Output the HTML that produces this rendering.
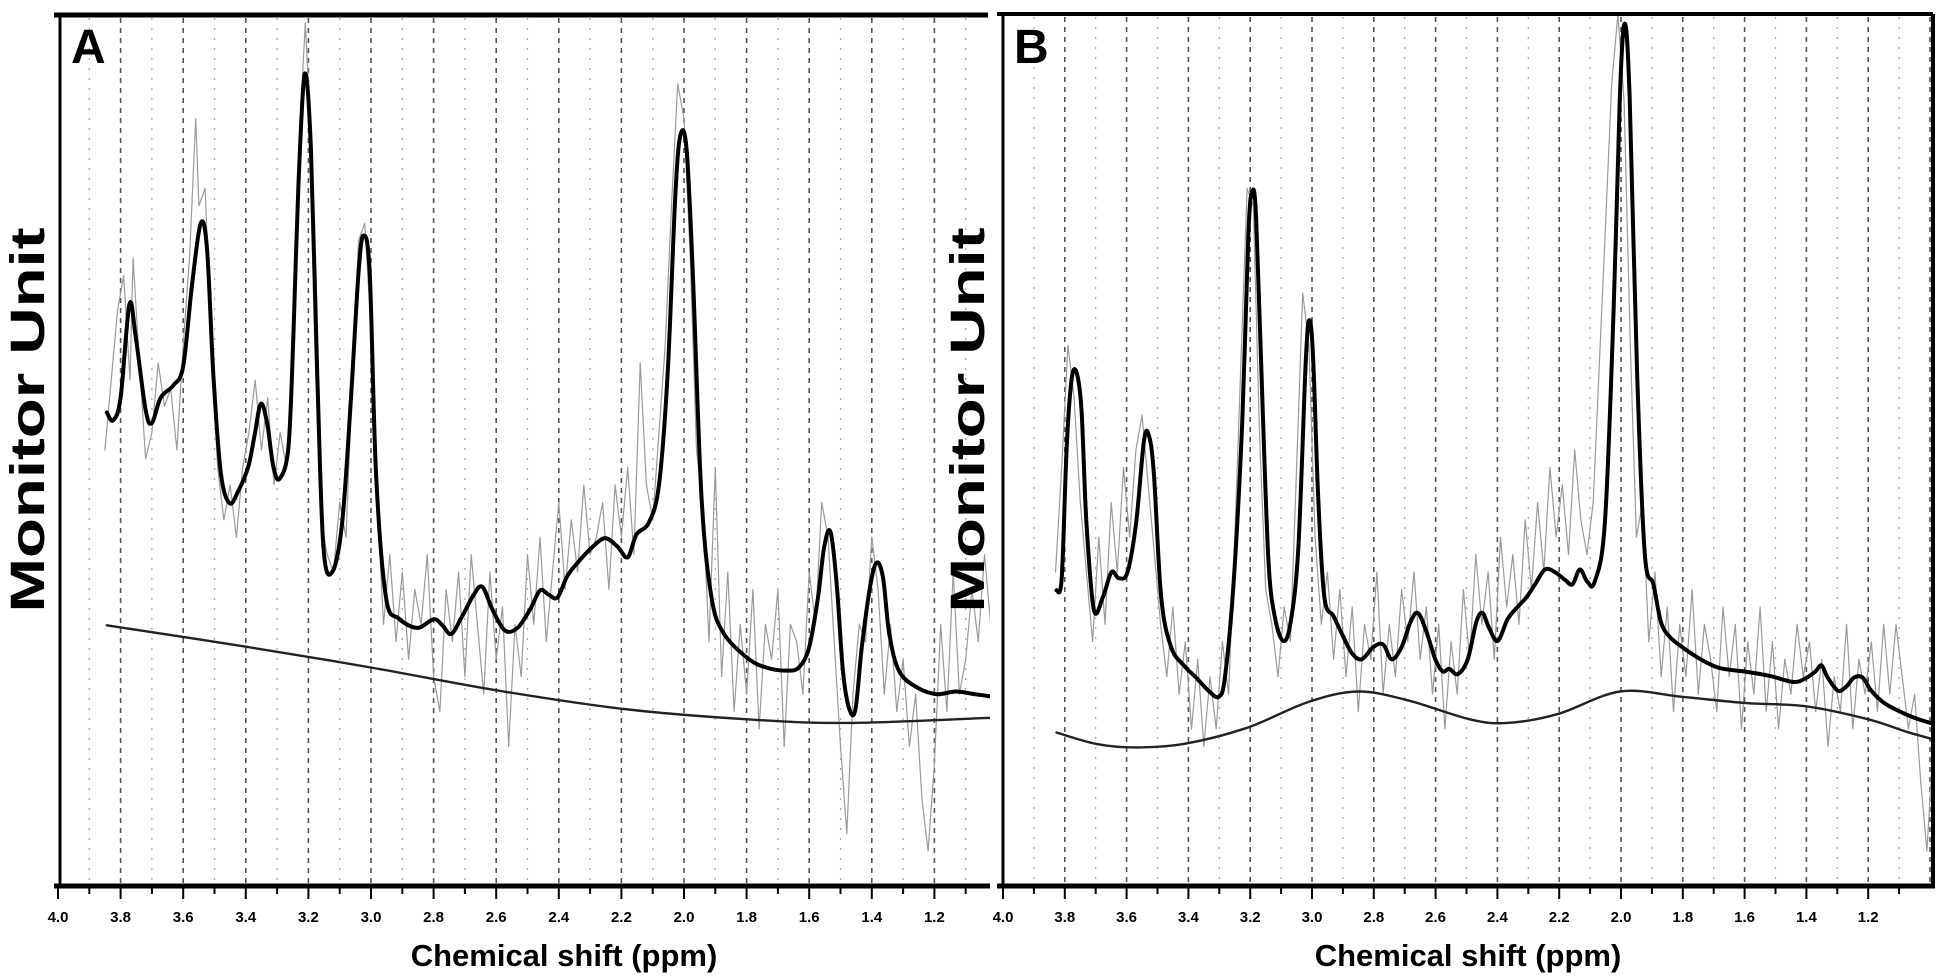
<!DOCTYPE html>
<html><head><meta charset="utf-8"><style>
html,body{margin:0;padding:0;background:#fff}
svg{display:block}
text{font-family:"Liberation Sans",Arial,sans-serif;font-weight:bold;fill:#000}
</style></head><body>
<svg id="chart" width="1944" height="978" viewBox="0 0 1944 978">
<defs>
<clipPath id="clipA"><rect x="60" y="18" width="930" height="867"/></clipPath>
<clipPath id="clipB"><rect x="1005" y="16" width="926" height="869"/></clipPath>
</defs>
<g id="gA"></g>
<g id="gB"></g>
</svg>
<script>
// ---------- Data ----------
const tickLabels = ["4.0","3.8","3.6","3.4","3.2","3.0","2.8","2.6","2.4","2.2","2.0","1.8","1.6","1.4","1.2"];
const tickPpm = [4.0,3.8,3.6,3.4,3.2,3.0,2.8,2.6,2.4,2.2,2.0,1.8,1.6,1.4,1.2];

const fitAppm = [3.844,3.824,3.80,3.772,3.752,3.72,3.70,3.672,3.632,3.60,3.572,3.544,3.524,3.504,3.48,3.452,3.424,3.392,3.372,3.352,3.332,3.312,3.292,3.264,3.248,3.232,3.212,3.192,3.172,3.152,3.124,3.092,3.064,3.04,3.024,3.004,2.984,2.952,2.912,2.852,2.80,2.772,2.744,2.712,2.672,2.644,2.612,2.572,2.532,2.492,2.46,2.432,2.404,2.372,2.332,2.292,2.252,2.212,2.18,2.152,2.112,2.08,2.052,2.028,2.012,1.992,1.972,1.944,1.912,1.872,1.792,1.732,1.672,1.632,1.60,1.572,1.552,1.532,1.512,1.492,1.472,1.452,1.432,1.404,1.384,1.364,1.344,1.312,1.252,1.192,1.132,1.072,1.012];
const fitAval = [54.3,53.4,56,66.7,63.1,54.6,53.1,56,57.4,59.6,68.9,76,73.1,58.9,47.4,43.9,45.3,48.1,51.7,55.3,53.1,48.1,46.7,50.3,63.1,80.3,93.1,84.6,58.9,38.9,36,41.7,56,70.3,74.6,70.3,47.4,33.1,30.7,29.6,30.6,29.9,28.9,30.7,33.4,34.3,31.7,29.3,29.6,31.7,33.9,33.4,33.1,35.6,37.4,38.9,39.9,38.9,37.7,40.3,41.7,46,58.9,78.9,86,84.6,70.3,44.6,33.1,28.9,26,25,24.7,25.1,27.4,33.1,38.9,40.6,34.6,24.6,20.3,20.3,27.4,34.6,37.1,35.3,28.9,24.6,22.7,22,22.3,22,21.7];
const baseAppm = [3.844,3.392,2.992,2.592,2.192,1.792,1.472,1.012];
const baseAval = [29.9,27.4,25,22.4,20.3,19.1,18.7,19.3];
const rawAppm = [3.85,3.83,3.81,3.79,3.77,3.76,3.74,3.72,3.70,3.68,3.66,3.64,3.62,3.60,3.58,3.56,3.55,3.53,3.51,3.49,3.47,3.45,3.43,3.41,3.39,3.37,3.35,3.33,3.31,3.29,3.27,3.25,3.23,3.21,3.20,3.18,3.16,3.14,3.12,3.10,3.08,3.06,3.04,3.02,3.00,2.98,2.96,2.94,2.92,2.90,2.88,2.86,2.84,2.82,2.80,2.78,2.76,2.74,2.72,2.70,2.68,2.66,2.64,2.62,2.60,2.58,2.56,2.54,2.52,2.50,2.48,2.46,2.44,2.42,2.40,2.38,2.36,2.34,2.32,2.30,2.28,2.26,2.24,2.22,2.20,2.18,2.16,2.14,2.12,2.10,2.08,2.06,2.04,2.02,2.00,1.98,1.96,1.94,1.92,1.90,1.88,1.86,1.84,1.82,1.80,1.78,1.76,1.74,1.72,1.70,1.68,1.66,1.64,1.62,1.60,1.58,1.56,1.54,1.52,1.50,1.48,1.46,1.44,1.42,1.40,1.38,1.36,1.34,1.32,1.30,1.28,1.26,1.24,1.22,1.20,1.18,1.16,1.14,1.12,1.10,1.08,1.06,1.04,1.02];
const rawAval = [50,58,66,70,58,72,60,49,52,60,55,57,50,62,72,88,78,80,62,48,42,46,40,48,52,58,50,56,46,52,48,62,85,99,92,62,42,38,36,44,40,58,74,76,64,44,30,38,28,36,26,34,30,38,24,20,34,28,36,24,38,30,22,36,26,32,16,30,24,38,30,40,28,36,44,34,42,36,46,38,40,44,34,46,40,48,38,60,46,42,52,62,78,92,88,72,50,44,28,48,24,36,20,30,22,34,18,30,26,34,16,30,28,22,36,30,44,40,28,16,6,22,30,28,40,34,22,30,20,26,16,22,10,4,14,30,20,36,22,26,34,28,38,30];

const fitBppm = [3.827,3.81,3.794,3.778,3.762,3.746,3.73,3.706,3.677,3.649,3.625,3.597,3.569,3.544,3.528,3.512,3.488,3.456,3.415,3.375,3.335,3.302,3.282,3.254,3.226,3.206,3.194,3.181,3.161,3.141,3.121,3.093,3.069,3.044,3.02,3.008,2.996,2.98,2.96,2.931,2.903,2.871,2.839,2.802,2.77,2.742,2.71,2.681,2.657,2.629,2.601,2.577,2.556,2.528,2.496,2.468,2.448,2.427,2.399,2.367,2.335,2.306,2.278,2.246,2.214,2.181,2.157,2.133,2.109,2.085,2.052,2.024,2.004,1.988,1.972,1.948,1.923,1.895,1.871,1.843,1.802,1.742,1.681,1.601,1.52,1.44,1.399,1.371,1.351,1.331,1.298,1.27,1.246,1.218,1.19,1.149,1.097,1.036,0.968];
const fitBval = [33.9,35.3,50.3,58.1,58.9,54.6,41.7,31.7,33.1,36,35.3,36,41.7,51,51.7,47.4,33.1,27.4,25.3,23.9,22.4,21.7,23.9,34.6,53.1,74.6,79.6,76.7,56,37.4,31,28.1,30.3,38.9,60.3,64.9,60.3,44.6,33.1,31,28.9,26.7,26,27.4,27.7,26,27.4,30.3,31.3,29.1,26,24.6,24.9,24.3,26,30.3,31.3,29.6,28.1,30.6,32,33.1,34.6,36.3,36,35.1,34.6,36.3,34.9,34.9,41.7,66,90.3,98.9,90.3,58.9,38.1,34.6,30.3,28.6,27.4,26,25,24.6,24.1,23.4,23.9,24.6,25.3,23.9,22.4,22.9,23.9,23.9,22.4,21,20,19.1,18.4];
const baseBppm = [3.827,3.698,3.577,3.415,3.214,3.012,2.851,2.69,2.488,2.367,2.206,2.004,1.802,1.601,1.399,1.198,1.077,0.968];
const baseBval = [17.6,16.3,15.9,16.3,18.1,21.1,22.3,21.3,19.1,18.7,19.7,22.3,21.7,21,20.6,19.1,17.7,16.6];
const rawBppm = [3.83,3.81,3.79,3.77,3.75,3.73,3.71,3.69,3.67,3.65,3.63,3.61,3.59,3.57,3.55,3.53,3.51,3.49,3.47,3.45,3.43,3.41,3.39,3.37,3.35,3.33,3.31,3.29,3.27,3.25,3.23,3.21,3.19,3.17,3.15,3.13,3.11,3.09,3.07,3.05,3.03,3.01,2.99,2.97,2.95,2.93,2.91,2.89,2.87,2.85,2.83,2.81,2.79,2.77,2.75,2.73,2.71,2.69,2.67,2.65,2.63,2.61,2.59,2.57,2.55,2.53,2.51,2.49,2.47,2.45,2.43,2.41,2.39,2.37,2.35,2.33,2.31,2.29,2.27,2.25,2.23,2.21,2.19,2.17,2.15,2.13,2.11,2.09,2.07,2.05,2.03,2.01,1.99,1.97,1.95,1.93,1.91,1.89,1.87,1.85,1.83,1.81,1.79,1.77,1.75,1.73,1.71,1.69,1.67,1.65,1.63,1.61,1.59,1.57,1.55,1.53,1.51,1.49,1.47,1.45,1.43,1.41,1.39,1.37,1.35,1.33,1.31,1.29,1.27,1.25,1.23,1.21,1.19,1.17,1.15,1.13,1.11,1.09,1.07,1.05,1.03,1.01,0.99,0.97];
const rawBval = [36,48,62,56,44,36,28,40,30,44,36,48,40,50,54,46,38,30,24,32,22,28,18,26,16,24,18,28,22,40,60,80,78,52,34,30,24,32,28,48,68,62,40,30,36,26,34,24,32,20,30,26,36,22,30,24,34,28,36,26,32,22,30,18,28,22,34,26,38,30,36,26,40,32,38,30,42,34,44,36,48,40,46,38,50,42,38,44,60,76,92,100,90,62,40,44,28,36,24,32,20,30,24,34,22,30,26,20,32,24,30,18,28,22,32,20,28,18,26,22,30,24,28,20,26,16,24,20,30,18,26,22,28,20,30,22,30,24,18,22,12,4,16,20];

// ---------- Drawing ----------
const NS = "http://www.w3.org/2000/svg";
function mk(tag, attrs, parent){
  const e = document.createElementNS(NS, tag);
  for (const k in attrs) e.setAttribute(k, attrs[k]);
  parent.appendChild(e);
  return e;
}
function yScale(v){ return 886 - v*8.72; }

function smoothD(pts){
  let d = "M" + pts[0][0].toFixed(1) + "," + pts[0][1].toFixed(1);
  for (let i = 0; i < pts.length - 1; i++){
    const p0 = pts[Math.max(0, i-1)], p1 = pts[i], p2 = pts[i+1], p3 = pts[Math.min(pts.length-1, i+2)];
    const c1x = p1[0] + (p2[0]-p0[0])/6, c1y = p1[1] + (p2[1]-p0[1])/6;
    const c2x = p2[0] - (p3[0]-p1[0])/6, c2y = p2[1] - (p3[1]-p1[1])/6;
    d += "C" + c1x.toFixed(1) + "," + c1y.toFixed(1) + " " + c2x.toFixed(1) + "," + c2y.toFixed(1) + " " + p2[0].toFixed(1) + "," + p2[1].toFixed(1);
  }
  return d;
}

function drawPanel(g, cfg){
  const xs = p => cfg.x0 + (4.0 - p) * cfg.k;
  for (let i = 1; i <= 30; i++){
    const p = 4.0 - i*0.1;
    const x = xs(p);
    if (x > cfg.right - 2) break;
    const major = i % 2 === 0;
    const ln = mk("line", {x1:x, x2:x, y1:cfg.top+3, y2:884, stroke: major ? "#555" : "#aaa", "stroke-width": major ? 1.6 : 1.3, "stroke-dasharray": major ? "5,5" : "2,8"}, g);
    
    
  }
  const plot = mk("g", {"clip-path": "url(#" + cfg.clip + ")"}, g);
  
  
  function path(px, pv, w, col, name, smooth){
    const pts = px.map((p, i) => [xs(p), yScale(pv[i])]);
    let d;
    if (smooth) d = smoothD(pts);
    else { d = ""; pts.forEach((q, i) => { d += (i ? "L" : "M") + q[0].toFixed(1) + "," + q[1].toFixed(1); }); }
    const p = mk("path", {d:d, fill:"none", stroke:col, "stroke-width":w, "stroke-linejoin":"round", "stroke-linecap":"round"}, plot);
    
    
  }
  path(cfg.rawP, cfg.rawV, 1.2, "#9a9a9a", "raw-spectrum-line", false);
  path(cfg.baseP, cfg.baseV, 2.4, "#222", "baseline-line", true);
  path(cfg.fitP, cfg.fitV, 4, "#000", "fitted-spectrum-line", true);
  const ax = mk("line", {x1:cfg.left, x2:cfg.left, y1:cfg.top, y2:888, stroke:"#000", "stroke-width":3}, g);
  
  
  const tp = mk("line", {x1:cfg.left-6, x2:cfg.right, y1:cfg.top, y2:cfg.top, stroke:"#000", "stroke-width":cfg.topW}, g);
  
  
  if (cfg.rightBorder){
    const rb = mk("line", {x1:cfg.right, x2:cfg.right, y1:cfg.top, y2:888, stroke:"#000", "stroke-width":4}, g);
    
    
  }
  const bx = mk("line", {x1:cfg.left-6, x2:cfg.right+2, y1:886, y2:886, stroke:"#000", "stroke-width":5}, g);
  
  
  for (let i = 0; i <= 29; i++){
    const p = 4.0 - i*0.1;
    const x = xs(p);
    if (x > cfg.right) break;
    const t = mk("line", {x1:x, x2:x, y1:886, y2: i%2===0 ? 899 : 894, stroke:"#000", "stroke-width":2}, g);
    
    
  }
  for (let i = 0; i < tickLabels.length; i++){
    const tl = mk("text", {x: xs(tickPpm[i]), y: 922, "text-anchor":"middle", "font-size":15}, g);
    tl.textContent = tickLabels[i];
    
    
  }
  const xt = mk("text", {x: cfg.titleX, y: 966, "text-anchor":"middle", "font-size":31}, g);
  xt.textContent = "Chemical shift (ppm)";
  
  
  const yt = mk("text", {x:0, y:0, "text-anchor":"middle", "font-size":48, transform:"translate(" + cfg.ylabX + ",420) rotate(-90)", textLength:385, lengthAdjust:"spacingAndGlyphs"}, g);
  yt.textContent = "Monitor Unit";
  
  
  const pl = mk("text", {x: cfg.left + 11, y: 63, "font-size":48}, g);
  pl.textContent = cfg.label;
  
  
}

drawPanel(document.getElementById("gA"), {x0:58, k:313, left:60, right:988, top:15, topW:5, rightBorder:false, clip:"clipA",
  fitP:fitAppm, fitV:fitAval, baseP:baseAppm, baseV:baseAval, rawP:rawAppm, rawV:rawAval, titleX:564, ylabX:44, label:"A"});
drawPanel(document.getElementById("gB"), {x0:1003, k:309, left:1003, right:1933, top:14, topW:4, rightBorder:true, clip:"clipB",
  fitP:fitBppm, fitV:fitBval, baseP:baseBppm, baseV:baseBval, rawP:rawBppm, rawV:rawBval, titleX:1468, ylabX:984, label:"B"});
</script>
</body></html>
